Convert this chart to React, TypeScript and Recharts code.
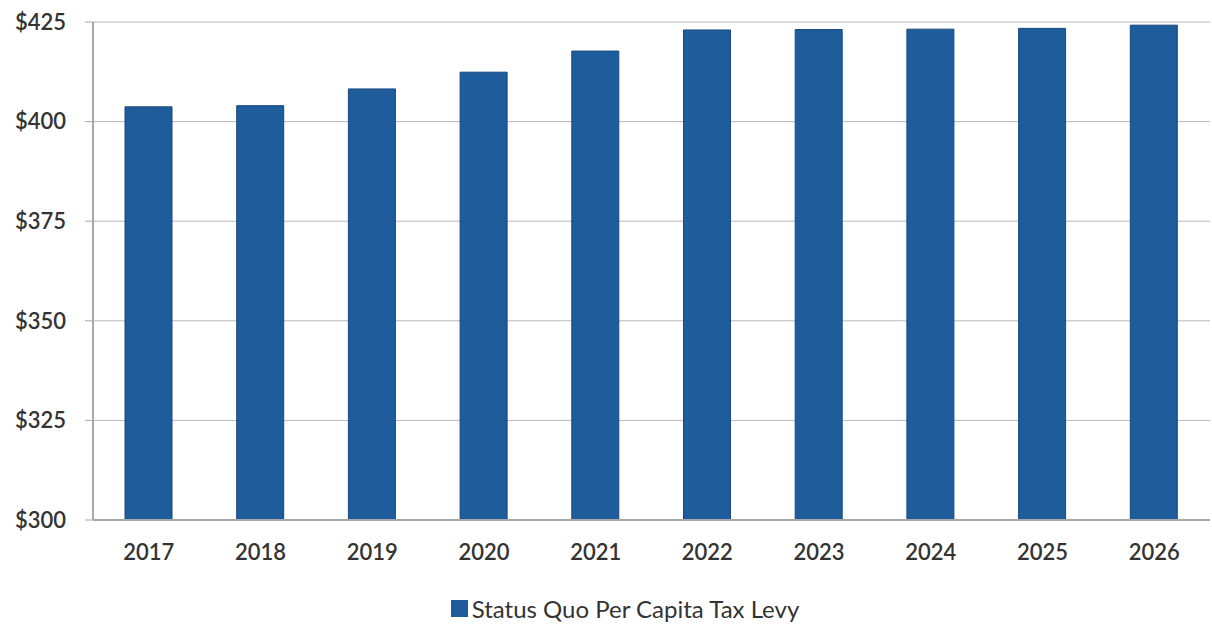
import React from "react";
import {
  Bar,
  BarChart,
  CartesianGrid,
  Legend,
  XAxis,
  YAxis,
} from "recharts";

const years = ["2017", "2018", "2019", "2020", "2021", "2022", "2023", "2024", "2025", "2026"];
const levy = [403.7, 404.0, 408.2, 412.4, 417.7, 423.0, 423.1, 423.2, 423.4, 424.2];
const yTicks = [300, 325, 350, 375, 400, 425];
const seriesName = "Status Quo Per Capita Tax Levy";

const BAR_COLOUR = "#1E5C9B";
const FONT = "Lato, 'Open Sans', sans-serif";

const LegendContent = (): JSX.Element => (
  <div
    style={{
      display: "flex",
      justifyContent: "center",
      alignItems: "center",
      height: 47,
      paddingLeft: 40,
      paddingTop: 10,
      boxSizing: "border-box",
      fontFamily: FONT,
      fontSize: 24,
      color: "#333",
    }}
  >
    <span
      style={{
        display: "inline-block",
        width: 17,
        height: 17,
        background: BAR_COLOUR,
        marginRight: 4,
      }}
    />
    {seriesName}
  </div>
);

const App: React.FunctionComponent = (): JSX.Element => {
  const data = years.map((year, index) => ({ year, levy: levy[index] }));
  return (
    <div style={{ position: "absolute", left: 0, top: 0, background: "#fff" }}>
      <BarChart
        width={1212}
        height={627}
        data={data}
        margin={{ top: 22, right: 2, left: 0, bottom: 0 }}
      >
        <CartesianGrid vertical={false} stroke="#b8b8b8" />
        <XAxis
          dataKey="year"
          height={60}
          tickLine={false}
          tickSize={8}
          tickMargin={16}
          axisLine={{ stroke: "#a8a8a8", strokeWidth: 2 }}
          tick={{ fill: "#333", fontSize: 22, fontFamily: FONT, fontWeight: 600 }}
        />
        <YAxis
          width={93}
          domain={[300, 425]}
          ticks={yTicks}
          interval={0}
          tickFormatter={(v: number) => `$${v}`}
          tickSize={8}
          tickMargin={19}
          axisLine={{ stroke: "#a8a8a8", strokeWidth: 2 }}
          tickLine={{ stroke: "#a8a8a8" }}
          tick={{ fill: "#333", fontSize: 22, fontFamily: FONT, fontWeight: 600 }}
        />
        <Legend
          verticalAlign="bottom"
          height={47}
          content={<LegendContent />}
        />
        <Bar
          dataKey="levy"
          name={seriesName}
          fill={BAR_COLOUR}
          stroke="#18497d"
          strokeWidth={1}
          barSize={47}
          isAnimationActive={false}
        />
      </BarChart>
    </div>
  );
};

export default App;
